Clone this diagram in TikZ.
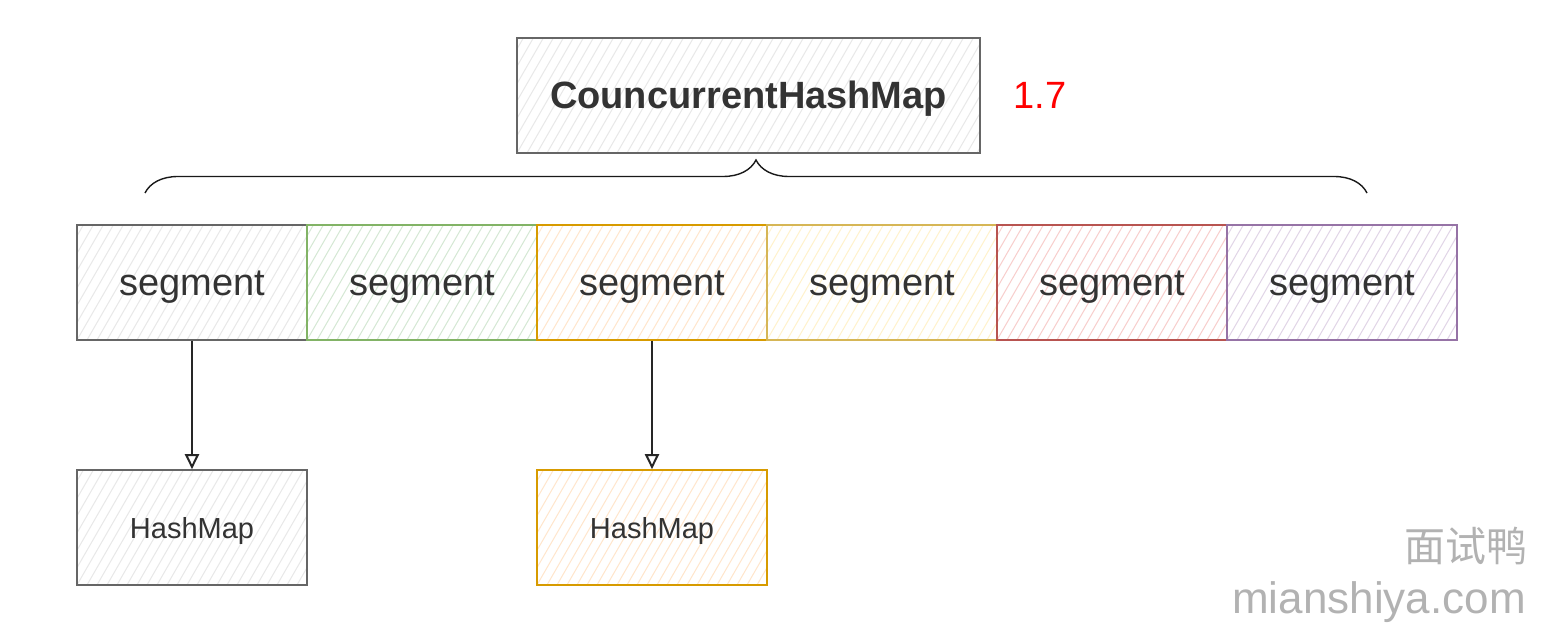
\documentclass[tikz,border=0pt]{standalone}
\usepackage{fontspec}
\setmainfont{Liberation Sans}
\newfontfamily\cjk{Noto Sans CJK SC}
\usetikzlibrary{calc,arrows.meta,decorations.pathreplacing}

\definecolor{grayline}{HTML}{666666}
\definecolor{grayfill}{HTML}{E8E8E8}
\definecolor{greenline}{HTML}{82B366}
\definecolor{greenfill}{HTML}{D5E8D4}
\definecolor{orangeline}{HTML}{D79B00}
\definecolor{orangefill}{HTML}{FFE6CC}
\definecolor{yellowline}{HTML}{D6B656}
\definecolor{yellowfill}{HTML}{FFF2CC}
\definecolor{redline}{HTML}{B85450}
\definecolor{redfill}{HTML}{F8CECC}
\definecolor{purpleline}{HTML}{9673A6}
\definecolor{purplefill}{HTML}{E1D5E7}
\definecolor{ink}{HTML}{333333}

\tikzset{
    box/.style={draw=#1line, line width=1.6pt, fill=white, text=ink,
        minimum width=230pt, minimum height=115pt, inner sep=0pt,
        text height=27pt, text depth=0pt,
        font=\fontsize{38}{40}\selectfont,
        path picture={
            \foreach \i in {-12,...,48}
                \draw [#1fill, line width=1pt]
                    ($(path picture bounding box.south west)+(\i*10,0)$) -- ++(90,-156);
        }},
    small/.style={font=\fontsize{29}{32}\selectfont, text height=21pt},
    link/.style={line width=1.6pt, draw=black!85, -{Triangle[open, length=15pt, width=14pt, line width=2pt]}}
}

\begin{document}
\begin{tikzpicture}[x=1pt, y=-1pt]
            \useasboundingbox (0,0) rectangle (1550,636);

            \node (M) at (748.5,95.5) [box=gray, minimum width=463pt, font=\fontsize{38}{40}\selectfont\bfseries] {CouncurrentHashMap};
            \node (V) at ($(M.east) + (59,0)$) [red, font=\fontsize{38}{40}\selectfont] {1.7};

            \node (S1) at (192,282.5) [box=gray] {segment};
            \foreach \c/\p/\n in {green/S1/S2, orange/S2/S3, yellow/S3/S4, red/S4/S5, purple/S5/S6}
                {
                    \node (\n) at ($(\p) + (230,0)$) [box=\c] {segment};
                }

            \node (H1) at ($(S1) + (0,245)$) [box=gray, small] {HashMap};
            \node (H2) at ($(S3) + (0,245)$) [box=orange, small] {HashMap};

            \draw [link] (S1) -- (H1);
            \draw [link] (S3) -- (H2);

            \coordinate (BL) at (145,193);
            \coordinate (BR) at (1367,193);
            \draw [decorate, decoration={brace, amplitude=33pt}, line width=1.4pt, black!90] (BL) -- (BR);

            \node (W1) at (1466,546) [black!30, font=\cjk\fontsize{41}{44}\selectfont] {面试鸭};
            \node (W2) at (1379,602) [black!30, font=\fontsize{44}{46}\selectfont] {mianshiya.com};

        \end{tikzpicture}
\end{document}
